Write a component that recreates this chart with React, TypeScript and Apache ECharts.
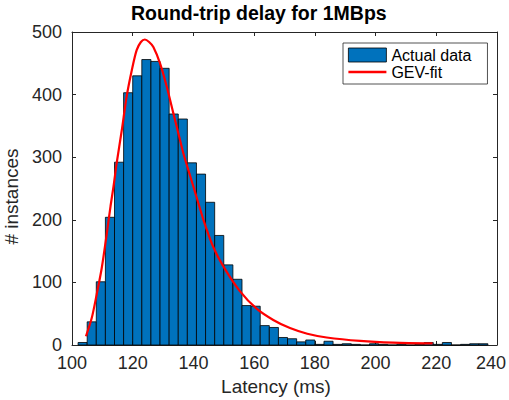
import React, { useEffect, useRef } from "react";
import * as echarts from "echarts";

// Histogram bins (left edges, ms) and counts
const binLefts = [
  102, 105, 108, 111, 114, 117, 120, 123, 126, 129, 132, 135, 138, 141, 144,
  147, 150, 153, 156, 159, 162, 165, 168, 171, 174, 177, 180, 183, 186, 189,
  192, 195, 198, 201, 204, 207, 210, 213, 216, 219, 222, 225, 228, 231, 234,
];
const binWidth = 3;
const counts = [
  4, 37, 101, 204, 292, 403, 430, 456, 453, 442, 369, 361, 291, 273, 228,
  175, 128, 105, 63, 62, 31, 28, 12, 10, 5, 8, 1, 6, 1, 2,
  1, 0, 2, 1, 0, 1, 0, 1, 4, 1, 4, 0, 1, 2, 2,
];

// GEV-fit curve
const fitX = [
  104.6, 106.5, 108.1, 109.8, 111.4, 112.7, 113.7, 114.7, 116.4, 118.0, 119.7,
  121.3, 122.7, 124.0, 125.4, 126.8, 129.0, 131.2, 133.4, 135.3, 136.7, 140.0,
  143.3, 146.5, 149.8, 155.3, 160.8, 166.3, 171.8, 177.5, 183.9, 194.9, 205.8,
  218.8,
];
const fitY = [
  14, 43, 80, 123, 176, 222, 254, 290, 343, 397, 439,
  471, 484, 488, 484, 476, 450, 413, 370, 333, 306, 253,
  200, 157, 126, 86, 58, 40, 27, 18, 12, 6.5, 3.7,
  2.5,
];

const FONT = "'Liberation Sans', Arial, Helvetica, sans-serif";
const AXIS_COLOR = "#262626";

export default function App() {
  const ref = useRef<HTMLDivElement>(null);

  useEffect(() => {
    document.body.style.margin = "0";
    const chart = echarts.init(ref.current!, null, { renderer: "svg" });

    const axisCommon = {
      axisLine: { show: true, onZero: false, lineStyle: { color: AXIS_COLOR, width: 1 } },
      axisTick: { show: true, inside: true, length: 4, lineStyle: { color: AXIS_COLOR, width: 1 } },
      splitLine: { show: false },
    };

    chart.setOption({
      animation: false,
      backgroundColor: "#ffffff",
      textStyle: { fontFamily: FONT },
      title: {
        text: "Round-trip delay for 1MBps",
        left: 131,
        top: 3,
        padding: 0,
        textStyle: { fontFamily: FONT, fontSize: 19.5, fontWeight: "bold", color: "#000" },
      },
      grid: {
        left: 72,
        right: 12,
        top: 32,
        bottom: 55,
        containLabel: false,
        outerBoundsMode: "none",
      },
      legend: {
        orient: "vertical",
        left: 343,
        top: 43,
        padding: [4, 16, 4, 5],
        itemGap: 1,
        itemWidth: 38,
        itemHeight: 14,
        symbolKeepAspect: true,
        backgroundColor: "#ffffff",
        borderColor: AXIS_COLOR,
        borderWidth: 0.8,
        borderRadius: 0,
        textStyle: { fontFamily: FONT, fontSize: 16, color: "#000" },
        data: [
          {
            name: "Actual data",
            icon: "rect",
            itemStyle: { color: "#0072BD", borderColor: "#000", borderWidth: 0.8 },
          },
          {
            name: "GEV-fit",
            icon: "path://M0,0 L38,0 L38,2.4 L0,2.4 Z",
            itemStyle: { color: "#FF0000", borderWidth: 0 },
          },
        ],
      },
      xAxis: [
        {
          type: "value",
          min: 100,
          max: 240,
          interval: 20,
          position: "bottom",
          name: "Latency (ms)",
          nameLocation: "middle",
          nameGap: 31,
          nameTextStyle: { fontFamily: FONT, fontSize: 19, color: AXIS_COLOR, padding: [0, 17, 0, 0] },
          axisLabel: {
            fontFamily: FONT,
            fontSize: 18,
            color: AXIS_COLOR,
            margin: 9,
            formatter: (v: number) => (v === 240 ? "{last|240}" : String(v)),
            rich: {
              last: { fontFamily: FONT, fontSize: 18, color: AXIS_COLOR, padding: [0, 12, 0, 0] },
            },
          },
          ...axisCommon,
        },
        {
          type: "value",
          min: 100,
          max: 240,
          interval: 20,
          position: "top",
          axisLabel: { show: false },
          ...axisCommon,
        },
      ],
      yAxis: [
        {
          type: "value",
          min: 0,
          max: 500,
          interval: 100,
          position: "left",
          name: "# instances",
          nameLocation: "middle",
          nameGap: 45,
          nameRotate: 90,
          nameTextStyle: { fontFamily: FONT, fontSize: 19, color: AXIS_COLOR, padding: [0, 16, 0, 0] },
          axisLabel: { fontFamily: FONT, fontSize: 18, color: AXIS_COLOR, margin: 10 },
          ...axisCommon,
        },
        {
          type: "value",
          min: 0,
          max: 500,
          interval: 100,
          position: "right",
          axisLabel: { show: false },
          ...axisCommon,
        },
      ],
      series: [
        {
          name: "Actual data",
          type: "custom",
          xAxisIndex: 0,
          yAxisIndex: 0,
          encode: { x: 0, y: 1 },
          data: binLefts.map((x, i) => [x, counts[i]]),
          itemStyle: { color: "#0072BD" },
          renderItem: (params: any, api: any) => {
            const x0 = api.value(0);
            const h = api.value(1);
            const p0 = api.coord([x0, h]);
            const p1 = api.coord([x0 + binWidth, 0]);
            return {
              type: "rect",
              shape: { x: p0[0], y: p0[1], width: p1[0] - p0[0], height: p1[1] - p0[1] },
              style: { fill: "#0072BD", stroke: "#000", lineWidth: 0.8 },
            };
          },
          z: 2,
        },
        {
          name: "GEV-fit",
          type: "line",
          xAxisIndex: 0,
          yAxisIndex: 0,
          data: fitX.map((x, i) => [x, fitY[i]]),
          symbol: "none",
          smooth: 0.3,
          lineStyle: { color: "#FF0000", width: 2.2 },
          itemStyle: { color: "#FF0000" },
          z: 3,
        },
      ],
    });

    return () => chart.dispose();
  }, []);

  return (
    <div
      ref={ref}
      style={{ position: "fixed", left: 0, top: 0, width: 509, height: 400, background: "#fff" }}
    />
  );
}
